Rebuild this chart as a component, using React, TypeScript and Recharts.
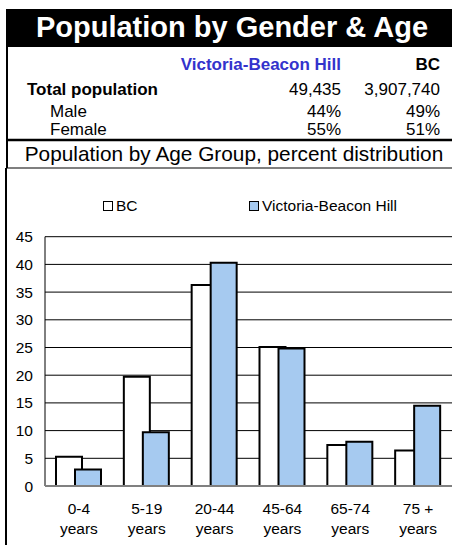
import React from 'react';
import { BarChart, Bar, XAxis, YAxis, CartesianGrid, Legend } from 'recharts';

const categories = ['0-4', '5-19', '20-44', '45-64', '65-74', '75 +'];
const categoryUnit = 'years';
const bcValues = [5.3, 19.7, 36.3, 25.1, 7.4, 6.4];
const vbhValues = [3.0, 9.7, 40.3, 24.8, 8.0, 14.5];
const yTicks = [0, 5, 10, 15, 20, 25, 30, 35, 40, 45];
const seriesNames = ['BC', 'Victoria-Beacon Hill'];

const title = 'Population by Gender & Age';
const subtitle = 'Population by Age Group, percent distribution';
const areaName = 'Victoria-Beacon Hill';
const provinceName = 'BC';
const rowLabels = ['Total population', 'Male', 'Female'];
const areaValues = ['49,435', '44%', '55%'];
const provinceValues = ['3,907,740', '49%', '51%'];

const FONT = '"Liberation Sans", Arial, Helvetica, sans-serif';
const BLUE_FILL = '#A6CAF0';

const data = categories.map((c, i) => ({ name: c, bc: bcValues[i], vbh: vbhValues[i] }));

const XTick = (props: any) => {
  const { x, y, payload } = props;
  return (
    <g>
      <text x={x} y={y + 28} textAnchor="middle" fontSize={15.5} fontFamily={FONT} fill="#000">
        {payload.value}
      </text>
      <text x={x} y={y + 48} textAnchor="middle" fontSize={15.5} fontFamily={FONT} fill="#000">
        {categoryUnit}
      </text>
    </g>
  );
};

const LegendContent = () => (
  <div style={{ position: 'relative', width: 446, height: 20, fontFamily: FONT, fontSize: 15.5 }}>
    {seriesNames.map((n, i) => {
      const left = i === 0 ? 97 : 243;
      return (
        <div key={n} style={{ position: 'absolute', left, top: 0, height: 20, display: 'flex', alignItems: 'center' }}>
          <div
            style={{
              width: 8,
              height: 8,
              border: '1.5px solid #000',
              background: i === 0 ? '#fff' : BLUE_FILL,
              marginRight: 3,
            }}
          />
          <span style={{ lineHeight: '20px', color: '#000' }}>{n}</span>
        </div>
      );
    })}
  </div>
);

export default function App() {
  const rowY = [95, 116.5, 135];
  return (
    <div style={{ position: 'absolute', left: 0, top: 0, width: 452, height: 545, background: '#fff', overflow: 'hidden' }}>
      <svg width={452} height={545} style={{ position: 'absolute', left: 0, top: 0 }}>
        <rect x={6} y={9} width={446} height={38} fill="#000" />
        <text x={232} y={37} textAnchor="middle" fontSize={29} fontWeight="bold" fontFamily={FONT} fill="#fff">
          {title}
        </text>
        <text x={341} y={70} textAnchor="end" fontSize={17} fontWeight="bold" fontFamily={FONT} fill="#3333CC">
          {areaName}
        </text>
        <text x={440} y={70} textAnchor="end" fontSize={17} fontWeight="bold" fontFamily={FONT} fill="#000">
          {provinceName}
        </text>
        {rowLabels.map((l, i) => (
          <g key={l}>
            <text
              x={i === 0 ? 27 : 50}
              y={rowY[i]}
              fontSize={17}
              fontWeight={i === 0 ? 'bold' : 'normal'}
              fontFamily={FONT}
              fill="#000"
            >
              {l}
            </text>
            <text x={341} y={rowY[i]} textAnchor="end" fontSize={17} fontFamily={FONT} fill="#000">
              {areaValues[i]}
            </text>
            <text x={440} y={rowY[i]} textAnchor="end" fontSize={17} fontFamily={FONT} fill="#000">
              {provinceValues[i]}
            </text>
          </g>
        ))}
        <line x1={6} x2={452} y1={140} y2={140} stroke="#000" strokeWidth={2.5} />
        <text x={234} y={161} textAnchor="middle" fontSize={20.8} fontFamily={FONT} fill="#000">
          {subtitle}
        </text>
        <line x1={6} x2={452} y1={168} y2={168} stroke="#555" strokeWidth={1.5} />
        <line x1={7} x2={7} y1={9} y2={168} stroke="#000" strokeWidth={2} />
        <line x1={6} x2={6} y1={168} y2={545} stroke="#000" strokeWidth={2} />
      </svg>
      <div style={{ position: 'absolute', left: 6, top: 168 }}>
        <BarChart
          width={446}
          height={377}
          data={data}
          margin={{ top: 48.7, right: 0, bottom: 0, left: 0 }}
          barSize={26}
          barGap={-7}
        >
          <CartesianGrid horizontal vertical={false} stroke="#000" strokeWidth={1} />
          <Legend
            verticalAlign="top"
            content={() => <LegendContent />}
            wrapperStyle={{ top: 28, left: 0, width: 446, height: 20 }}
          />
          <YAxis
            domain={[0, 45]}
            ticks={yTicks}
            interval={0}
            width={39}
            tickSize={0}
            tickMargin={12}
            axisLine={{ stroke: '#000', strokeWidth: 1 }}
            tickLine={false}
            tick={{ fontSize: 15.5, fontFamily: FONT, fill: '#000' }}
          />
          <XAxis
            dataKey="name"
            height={59}
            tickSize={0}
            tickMargin={0}
            interval={0}
            axisLine={{ stroke: '#808080', strokeWidth: 2 }}
            tickLine={false}
            tick={<XTick />}
          />
          <Bar dataKey="bc" name={seriesNames[0]} fill="#fff" stroke="#000" strokeWidth={2} isAnimationActive={false} />
          <Bar dataKey="vbh" name={seriesNames[1]} fill={BLUE_FILL} stroke="#000" strokeWidth={2} isAnimationActive={false} />
        </BarChart>
      </div>
    </div>
  );
}
